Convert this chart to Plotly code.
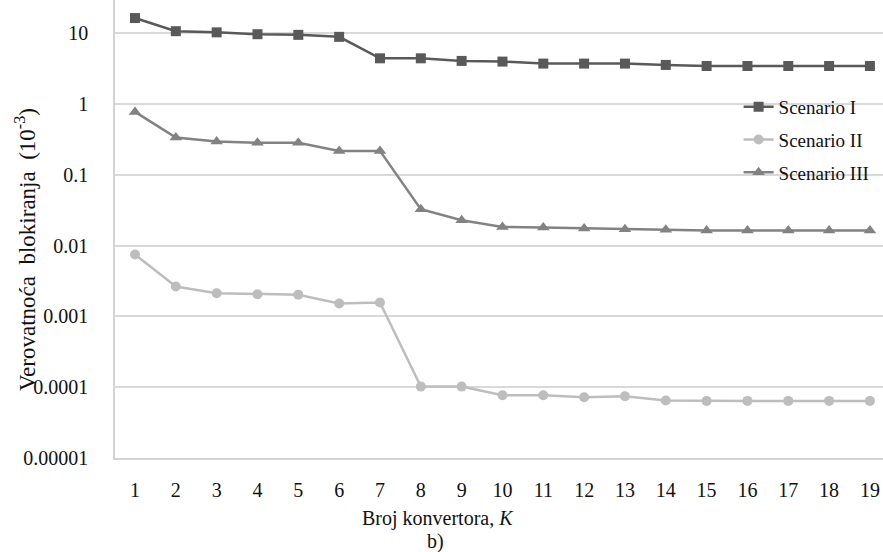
import plotly.graph_objects as go

# Number of converters K
k_values = list(range(1, 20))

# Blocking probability (x 10^-3) per scenario
scenario_1 = [16.4, 10.7, 10.3, 9.7, 9.5, 8.9, 4.43, 4.43, 4.07, 3.98,
              3.73, 3.73, 3.73, 3.57, 3.45, 3.45, 3.45, 3.45, 3.45]
scenario_2 = [0.00748, 0.00264, 0.00213, 0.00206, 0.00203, 0.00152, 0.00157,
              0.000102, 0.000102, 0.0000771, 0.0000771, 0.0000722, 0.0000746,
              0.0000649, 0.0000641, 0.0000641, 0.0000641, 0.0000641, 0.0000641]
scenario_3 = [0.774, 0.336, 0.295, 0.284, 0.284, 0.218, 0.218, 0.0327, 0.0228,
              0.0184, 0.018, 0.0175, 0.0171, 0.0167, 0.0163, 0.0163, 0.0163,
              0.0163, 0.0163]

series_names = ["Scenario I", "Scenario II", "Scenario III"]

y_tick_vals = [1e-5, 1e-4, 1e-3, 1e-2, 1e-1, 1, 10]
y_tick_text = ["0.00001", "0.0001", "0.001", "0.01", "0.1", "1", "10"]

FONT = "'Liberation Serif', 'DejaVu Serif', serif"
INK = "#111111"

styles = [
    dict(color="#595959", symbol="square", size=10),
    dict(color="#BDBDBD", symbol="circle", size=10),
    dict(color="#828282", symbol="triangle-up", size=11),
]

fig = go.Figure()
for name, values, st, grp in zip(series_names, [scenario_1, scenario_2, scenario_3],
                                 styles, ["a", "b", "c"]):
    fig.add_trace(go.Scatter(
        x=k_values, y=values, name=name, mode="lines+markers",
        legendgroup=grp,
        line=dict(color=st["color"], width=2.5),
        marker=dict(color=st["color"], symbol=st["symbol"], size=st["size"]),
    ))

fig.update_layout(
    width=883, height=552,
    margin=dict(l=115, r=0, t=0, b=94),
    plot_bgcolor="white", paper_bgcolor="white",
    font=dict(family=FONT, size=20, color=INK),
    showlegend=True,
    legend=dict(
        x=0.812, y=0.808, xanchor="left", yanchor="top",
        bgcolor="rgba(0,0,0,0)", font=dict(family=FONT, size=19, color=INK),
        tracegroupgap=5, itemwidth=30,
    ),
    xaxis=dict(
        range=[0.51, 19.32], tickmode="array", tickvals=k_values,
        ticktext=[str(k) for k in k_values],
        showgrid=False, zeroline=False,
        showline=True, linecolor="#d4d4d4", linewidth=1.5,
        ticks="", ticklabelstandoff=13,
        tickfont=dict(family=FONT, size=20, color=INK),
    ),
    yaxis=dict(
        type="log", range=[-5, 1.47],
        tickmode="array", tickvals=y_tick_vals, ticktext=y_tick_text,
        showgrid=True, gridcolor="#d9d9d9", gridwidth=1.5,
        zeroline=False, showline=True, linecolor="#d4d4d4", linewidth=1.5,
        ticks="", ticklabelstandoff=21,
        tickfont=dict(family=FONT, size=20, color=INK),
    ),
    annotations=[
        dict(text="Broj konvertora, <i>K</i>", xref="paper", yref="paper",
             x=(438 - 115) / 768, y=-(518 - 458) / 458, xanchor="center", yanchor="middle",
             showarrow=False, font=dict(family=FONT, size=20, color=INK)),
        dict(text="b)", xref="paper", yref="paper",
             x=(435 - 115) / 768, y=-(541 - 458) / 458, xanchor="center", yanchor="middle",
             showarrow=False, font=dict(family=FONT, size=20, color=INK)),
        dict(text="Verovatnoća  blokiranja  (10<sup>-3</sup>)", xref="paper", yref="paper",
             x=-(115 - 25) / 768, y=1 - 250 / 458, xanchor="center", yanchor="middle",
             textangle=-90, showarrow=False,
             font=dict(family=FONT, size=23, color=INK)),
    ],
)

fig.write_html("out.html")
